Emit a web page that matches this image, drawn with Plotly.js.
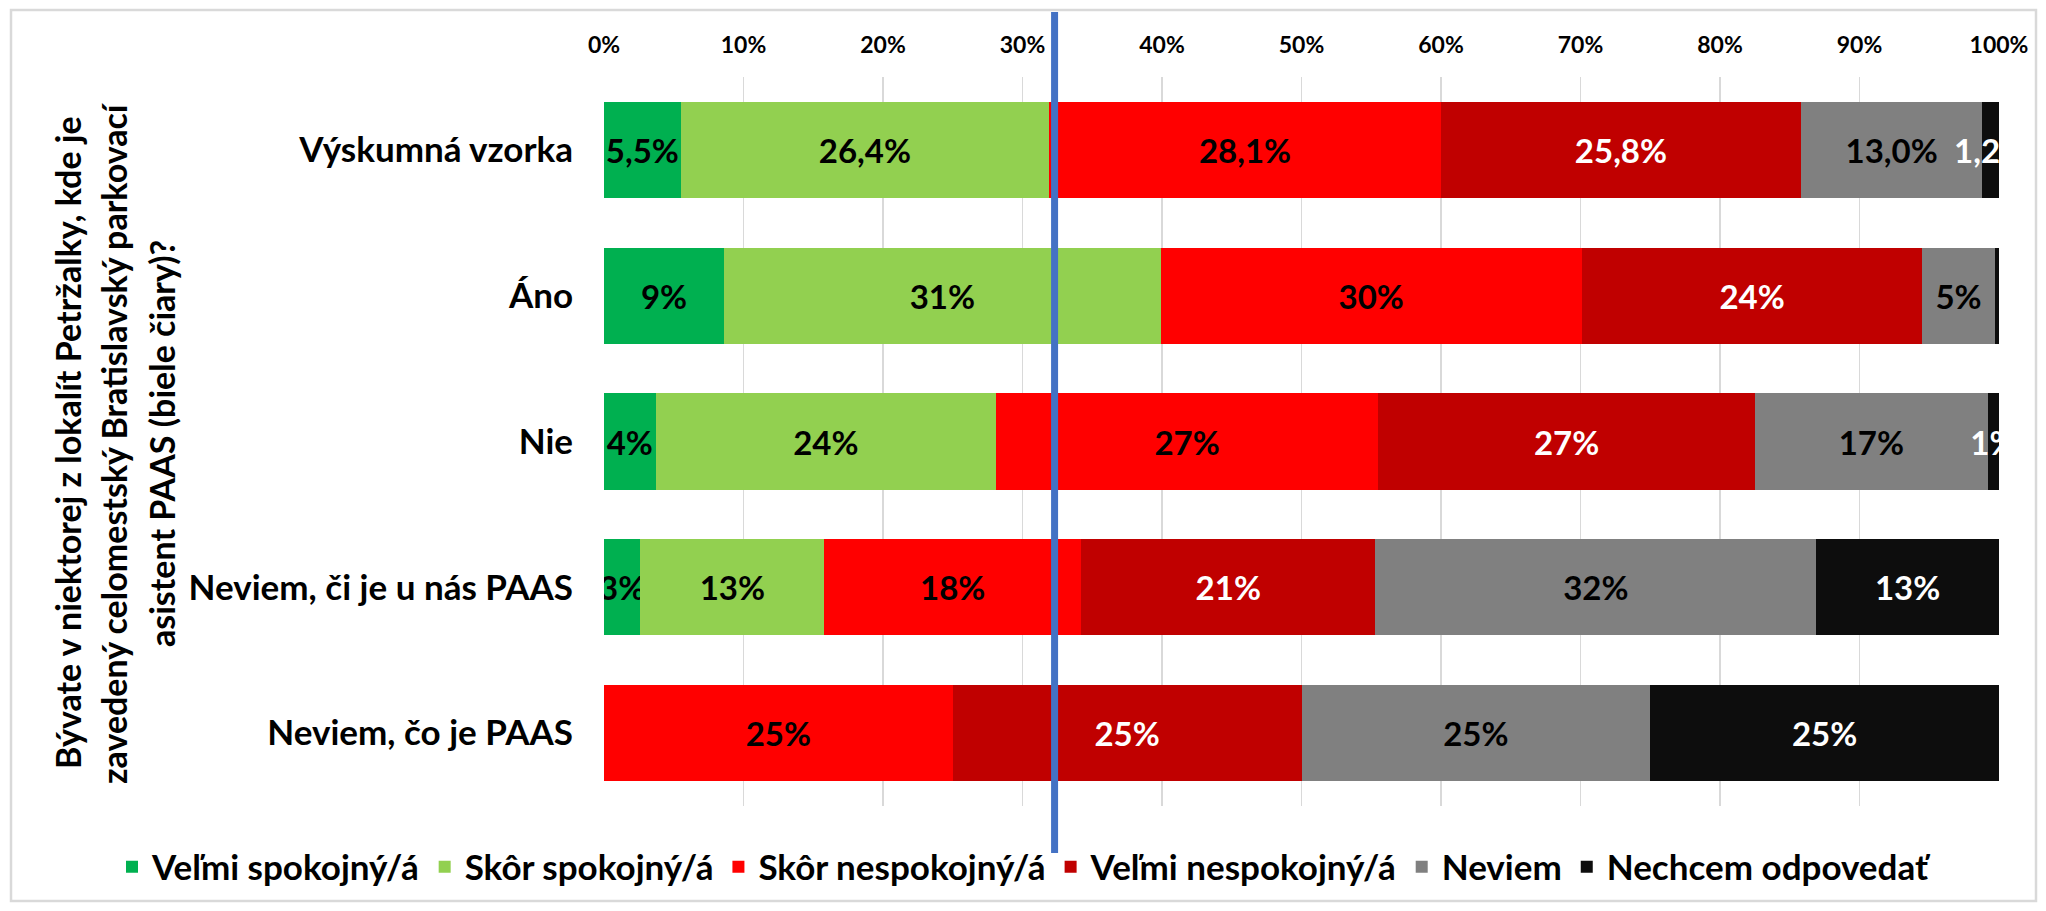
<!DOCTYPE html>
<html>
<head>
<meta charset="utf-8">
<script src="https://cdn.plot.ly/plotly-3.0.1.min.js"></script>
<style>html,body{margin:0;padding:0;background:#fff;}#chart{width:2046px;height:911px;}</style>
</head>
<body>
<div id="chart"></div>
<script>
// ---- data ----
const categories = ['Výskumná vzorka', 'Áno', 'Nie', 'Neviem, či je u nás PAAS', 'Neviem, čo je PAAS'];
const labelDecimals = [1, 0, 0, 0, 0];
const seriesNames = ['Veľmi spokojný/á', 'Skôr spokojný/á', 'Skôr nespokojný/á', 'Veľmi nespokojný/á', 'Neviem', 'Nechcem odpovedať'];
const velmiSpokojny   = [5.5, 8.6, 3.7, 2.6, 0];
const skorSpokojny    = [26.4, 31.3, 24.4, 13.2, 0];
const skorNespokojny  = [28.1, 30.2, 27.4, 18.4, 25];
const velmiNespokojny = [25.8, 24.4, 27.0, 21.1, 25];
const neviem          = [13.0, 5.2, 16.7, 31.6, 25];
const nechcem         = [1.2, 0.3, 0.8, 13.1, 25];
const referenceLine = 32.3;
const xTickVals = [0, 10, 20, 30, 40, 50, 60, 70, 80, 90, 100];
const xTickText = ['0%', '10%', '20%', '30%', '40%', '50%', '60%', '70%', '80%', '90%', '100%'];
const axisTitleLines = [
  'Bývate v niektorej z lokalít Petržalky, kde je',
  'zavedený celomestský Bratislavský parkovací',
  'asistent PAAS (biele čiary)?'
];

// ---- style ----
const seriesValues = [velmiSpokojny, skorSpokojny, skorNespokojny, velmiNespokojny, neviem, nechcem];
const colors = ['#00B050', '#92D050', '#FF0000', '#C00000', '#808080', '#0D0D0D'];
const textColors = ['#000000', '#000000', '#000000', '#FFFFFF', '#000000', '#FFFFFF'];
const FONT = 'Lato, "Open Sans", sans-serif';

function fmt(v, d) {
  const r = Number(v.toFixed(d));
  if (r === 0) return '';
  return r.toFixed(d).replace('.', ',') + '%';
}

const traces = seriesValues.map((vals, i) => ({
  type: 'bar',
  orientation: 'h',
  name: seriesNames[i],
  y: categories,
  x: vals,
  text: vals.map((v, j) => fmt(v, labelDecimals[j])),
  textposition: 'inside',
  insidetextanchor: 'middle',
  textangle: 0,
  constraintext: 'none',
  cliponaxis: true,
  textfont: {family: FONT, size: 33, color: textColors[i], weight: 700},
  marker: {color: colors[i], line: {width: 0}},
  hoverinfo: 'skip'
}));

// layout geometry (pixels)
const W = 2046, H = 911;
const M = {l: 604, r: 47, t: 77, b: 105};
const pw = W - M.l - M.r, ph = H - M.t - M.b;
const px = x => (x - M.l) / pw;
const py = y => (H - M.b - y) / ph;

const titleX = [68, 114, 162];
const annotations = axisTitleLines.map((t, i) => ({
  text: t, xref: 'paper', yref: 'paper',
  x: px(titleX[i]), y: py(443), xanchor: 'center', yanchor: 'middle',
  textangle: -90, showarrow: false,
  font: {family: FONT, size: 34, color: '#000', weight: 700}
}));

const layout = {
  width: W, height: H,
  margin: M,
  paper_bgcolor: '#FFFFFF',
  plot_bgcolor: '#FFFFFF',
  barmode: 'stack',
  bargap: 0.34,
  font: {family: FONT, color: '#000000'},
  showlegend: true,
  legend: {
    orientation: 'h',
    x: px(112), xanchor: 'left',
    y: py(867), yanchor: 'middle',
    font: {family: FONT, size: 35, color: '#000', weight: 700},
    traceorder: 'normal',
    itemwidth: 30,
    bgcolor: 'rgba(0,0,0,0)'
  },
  xaxis: {
    side: 'top',
    range: [0, 100],
    tickmode: 'array',
    tickvals: xTickVals,
    ticktext: xTickText,
    showgrid: true,
    gridcolor: '#D9D9D9',
    gridwidth: 1.5,
    zeroline: false,
    showline: false,
    ticks: '',
    ticklabelstandoff: 18,
    tickfont: {family: FONT, size: 23, color: '#000', weight: 700},
    fixedrange: true
  },
  yaxis: {
    type: 'category',
    autorange: 'reversed',
    showgrid: false,
    zeroline: false,
    showline: false,
    ticks: '',
    ticklabelstandoff: 30,
    tickfont: {family: FONT, size: 35, color: '#000', weight: 700},
    fixedrange: true
  },
  annotations: annotations,
  shapes: [
    {type: 'rect', xref: 'paper', yref: 'paper',
     x0: px(11), x1: px(2036), y0: py(901), y1: py(10),
     line: {color: '#D9D9D9', width: 2.5}, fillcolor: 'rgba(0,0,0,0)', layer: 'below'},
    {type: 'line', xref: 'x', yref: 'paper',
     x0: referenceLine, x1: referenceLine, y0: py(853), y1: py(12),
     line: {color: '#4472C4', width: 7}, layer: 'above'}
  ]
};

Plotly.newPlot('chart', traces, layout, {displayModeBar: false, staticPlot: true});
</script>
</body>
</html>
